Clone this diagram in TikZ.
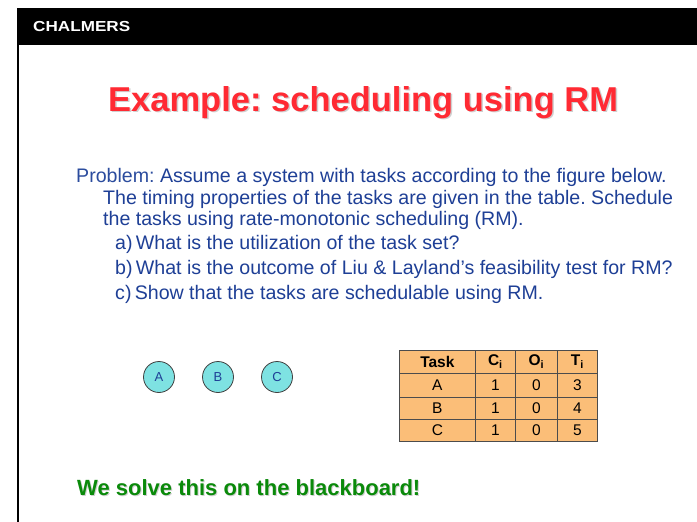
\documentclass[tikz,border=0pt]{standalone}
\usepackage{fontspec}
\setmainfont{Liberation Sans}
\frenchspacing
\definecolor{titlered}{HTML}{FF2A33}
\definecolor{textblue}{HTML}{1E3F96}
\definecolor{probblue}{HTML}{2B4C9E}
\definecolor{solvegreen}{HTML}{0A8A0A}
\definecolor{cellorange}{HTML}{FBBE78}
\definecolor{circfill}{HTML}{7EE2E2}
\definecolor{shadowgray}{HTML}{D0D0D0}
\tikzset{
  txt/.style={anchor=base west, inner sep=0pt, text=textblue, font=\fontsize{19.6}{22}\selectfont},
  taskcirc/.style={circle, draw=black!75, line width=0.8pt, fill=circfill, minimum size=31pt, inner sep=0pt, text=textblue, font=\fontsize{13}{15}\selectfont},
  cell/.style={draw=black!70, line width=0.8pt, fill=cellorange, inner sep=0pt, font=\fontsize{15.5}{17}\selectfont},
}
\begin{document}
\begin{tikzpicture}[x=1pt,y=-1pt]
\useasboundingbox (0,0) rectangle (697,522);
\fill[white] (0,0) rectangle (697,522);
% header bar
\fill[black] (17,8) rectangle (697,45);
\node[anchor=base west, inner sep=0pt, text=white, xscale=1.18, font=\bfseries\fontsize{14.5}{16}\selectfont] (brand) at (33,31) {CHALMERS};
\draw[black, line width=2pt] (18,45) -- (18,522);
% title
\node[anchor=base west, inner sep=0pt, text=shadowgray, font=\bfseries\fontsize{34.5}{38}\selectfont] (titleshadow) at (109.5,112.5) {Example: scheduling using RM};
\node[anchor=base west, inner sep=0pt, text=titlered, font=\bfseries\fontsize{34.5}{38}\selectfont] (title) at (108,111) {Example: scheduling using RM};
% problem text
\node[txt] (l1) at (76,182) {\textcolor{probblue}{Problem:} Assume a system with tasks according to the figure below.};
\node[txt] (l2) at (103,204) {The timing properties of the tasks are given in the table. Schedule};
\node[txt] (l3) at (103,225) {the tasks using rate-monotonic scheduling (RM).};
\node[txt] (l4) at (115,249) {a)\,What is the utilization of the task set?};
\node[txt] (l5) at (115,274) {b)\,What is the outcome of Liu \& Layland’s feasibility test for RM?};
\node[txt] (l6) at (115,299) {c)\,Show that the tasks are schedulable using RM.};
% circles
\node[taskcirc] (A) at (159,377) {A};
\node[taskcirc] (B) at (218,377) {B};
\node[taskcirc] (C) at (277,377) {C};
% table
\foreach \r/\ya/\yb/\ta/\tb/\tc/\td in {0/350/373/\textbf{Task}/\textbf{C\textsubscript{i}}/\textbf{O\textsubscript{i}}/\textbf{T\textsubscript{i}},1/373/397/A/1/0/3,2/397/419/B/1/0/4,3/419/441/C/1/0/5}{
  \node[cell, minimum width=76pt, minimum height={\yb-\ya}, anchor=north west] (t\r a) at (399,\ya) {\ta};
  \node[cell, minimum width=40pt, minimum height={\yb-\ya}, anchor=north west] (t\r b) at (475,\ya) {\tb};
  \node[cell, minimum width=42pt, minimum height={\yb-\ya}, anchor=north west] (t\r c) at (515,\ya) {\tc};
  \node[cell, minimum width=40pt, minimum height={\yb-\ya}, anchor=north west] (t\r d) at (557,\ya) {\td};
}
% solve
\node[anchor=base west, inner sep=0pt, text=shadowgray, font=\bfseries\fontsize{22}{25}\selectfont] (solveshadow) at (78,496.5) {We solve this on the blackboard!};
\node[anchor=base west, inner sep=0pt, text=solvegreen, font=\bfseries\fontsize{22}{25}\selectfont] (solve) at (77,495.5) {We solve this on the blackboard!};
\end{tikzpicture}
\end{document}
